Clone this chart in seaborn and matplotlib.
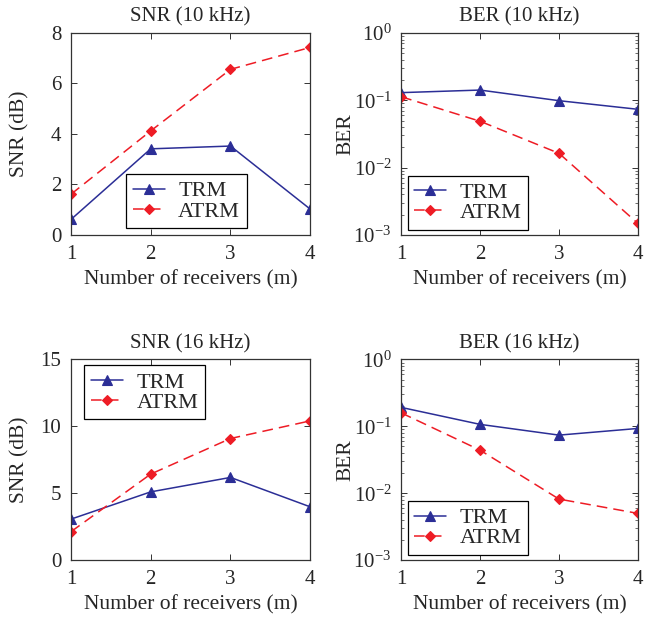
import matplotlib
matplotlib.use("Agg")
import matplotlib.pyplot as plt
import seaborn as sns
import numpy as np
from matplotlib.ticker import LogLocator, NullFormatter, FixedLocator

receivers = [1, 2, 3, 4]
snr10_trm = [0.61, 3.41, 3.52, 1.02]
snr10_atrm = [1.61, 4.12, 6.56, 7.43]
ber10_trm = [0.130, 0.142, 0.0987, 0.0735]
ber10_atrm = [0.113, 0.0488, 0.0163, 0.00148]
snr16_trm = [3.06, 5.10, 6.18, 3.98]
snr16_atrm = [2.12, 6.43, 9.09, 10.41]
ber16_trm = [0.192, 0.107, 0.0739, 0.093]
ber16_atrm = [0.159, 0.044, 0.00817, 0.00499]

titles = ["SNR (10 kHz)", "BER (10 kHz)", "SNR (16 kHz)", "BER (16 kHz)"]
xlabel = "Number of receivers (m)"
series_names = ["TRM", "ATRM"]

sns.set_style("ticks")
plt.rcParams["font.family"] = ["Liberation Serif", "DejaVu Serif"]
plt.rcParams["mathtext.fontset"] = "stix"
plt.rcParams["mathtext.default"] = "regular"

BLUE = "#2b2e96"
RED = "#ee1c25"
SPINE = "#333333"

fig = plt.figure(figsize=(6.45, 6.23), dpi=100)
positions = [
    [0.110, 0.623, 0.371, 0.324],
    [0.622, 0.623, 0.367, 0.324],
    [0.110, 0.101, 0.371, 0.322],
    [0.622, 0.101, 0.367, 0.322],
]
data = [
    (snr10_trm, snr10_atrm, "SNR (dB)", False, (0, 8), [0, 2, 4, 6, 8], (0.23, 0.033), -0.175),
    (ber10_trm, ber10_atrm, "BER", True, (1e-3, 1), None, (0.027, 0.025), -0.195),
    (snr16_trm, snr16_atrm, "SNR (dB)", False, (0, 15), [0, 5, 10, 15], (0.056, 0.701), -0.175),
    (ber16_trm, ber16_atrm, "BER", True, (1e-3, 1), None, (0.027, 0.025), -0.195),
]

FS_TITLE = 15
FS_LABEL = 15.5
FS_TICK = 15
FS_LEG = 16

for pos, title, (trm, atrm, ylab, logy, ylim, yticks, legpos, ylx) in zip(positions, titles, data):
    ax = fig.add_axes(pos)
    sns.lineplot(x=receivers, y=trm, ax=ax, color=BLUE, marker="^", markersize=7.5,
                 markeredgecolor=BLUE, markeredgewidth=0.8, linewidth=1.1,
                 linestyle="-", label=series_names[0])
    sns.lineplot(x=receivers, y=atrm, ax=ax, color=RED, marker="D", markersize=5,
                 markeredgecolor=RED, markeredgewidth=0.8, linewidth=1.1,
                 linestyle=(0, (7, 4)), label=series_names[1])
    ax.set_xlim(1, 4)
    ax.set_xticks(receivers)
    if logy:
        ax.set_yscale("log")
        ax.set_ylim(*ylim)
        ax.yaxis.set_major_locator(FixedLocator([1e-3, 1e-2, 1e-1, 1e0]))
        ax.yaxis.set_minor_locator(LogLocator(base=10, subs=np.arange(2, 10), numticks=20))
        ax.yaxis.set_minor_formatter(NullFormatter())
        ax.set_yticklabels(["10$^{-3}$", "10$^{-2}$", "10$^{-1}$", "10$^{0}$"])
    else:
        ax.set_ylim(*ylim)
        ax.set_yticks(yticks)
    ax.set_title(title, fontsize=FS_TITLE, pad=8)
    ax.set_xlabel(xlabel, fontsize=FS_LABEL)
    ax.xaxis.set_label_coords(0.5, -0.172)
    ax.set_ylabel(ylab, fontsize=FS_LABEL)
    ax.yaxis.set_label_coords(ylx, 0.5)
    ax.tick_params(axis="both", which="major", direction="in", top=True, right=True,
                   length=4, width=0.7, labelsize=FS_TICK, color=SPINE, pad=7)
    ax.tick_params(axis="both", which="minor", direction="in", top=True, right=True,
                   length=2, width=0.5, color=SPINE)
    for s in ax.spines.values():
        s.set_color(SPINE)
        s.set_linewidth(0.9)
    leg = ax.legend(loc="lower left", bbox_to_anchor=legpos, fontsize=FS_LEG,
                    frameon=True, fancybox=False, framealpha=1, edgecolor="black",
                    handlelength=1.45, borderpad=0.3, labelspacing=-0.02,
                    handletextpad=0.6, borderaxespad=0)
    leg.get_frame().set_linewidth(0.9)

fig.savefig("out.png", dpi=100)
